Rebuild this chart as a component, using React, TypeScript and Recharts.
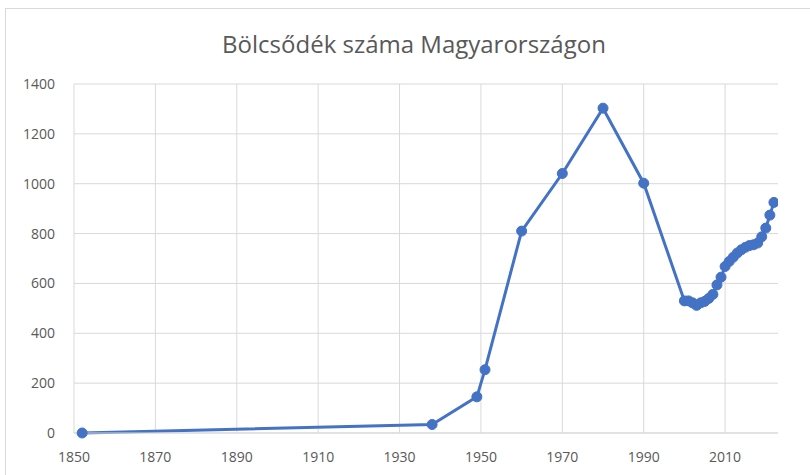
import React from 'react';
import { LineChart, Line, XAxis, YAxis, CartesianGrid } from 'recharts';

// Bölcsődék száma évenként (leolvasott értékek)
const years = [
  1852, 1938, 1949, 1951, 1960, 1970, 1980, 1990,
  2000, 2001, 2002, 2003, 2004, 2005, 2006, 2007, 2008, 2009, 2010,
  2011, 2012, 2013, 2014, 2015, 2016, 2017, 2018, 2019, 2020, 2021, 2022,
];
const counts = [
  0, 34, 145, 254, 810, 1041, 1303, 1002,
  530, 530, 522, 512, 522, 528, 540, 556, 594, 625, 668,
  688, 705, 722, 735, 745, 752, 755, 762, 787, 822, 874, 925,
];
const xTicks = [1850, 1870, 1890, 1910, 1930, 1950, 1970, 1990, 2010];
const yTicks = [0, 200, 400, 600, 800, 1000, 1200, 1400];

const title = 'Bölcsődék száma Magyarországon';

const data = years.map((year, i) => ({ year, count: counts[i] }));

const font = '"Open Sans", sans-serif';
const textColor = '#595959';
const gridColor = '#d9d9d9';
const lineColor = '#4472C4';

const App: React.FC = () => {
  return (
    <div
      style={{
        position: 'absolute',
        left: 0,
        top: 0,
        width: 810,
        height: 475,
        overflow: 'hidden',
        background: '#fff',
        fontFamily: font,
      }}
    >
      {/* keret */}
      <div
        style={{
          position: 'absolute',
          left: 5,
          top: 8,
          width: 830,
          height: 500,
          border: `1px solid ${gridColor}`,
        }}
      />
      <div
        style={{
          position: 'absolute',
          left: 114,
          top: 26,
          width: 600,
          textAlign: 'center',
          fontSize: 24,
          color: textColor,
          lineHeight: '36px',
        }}
      >
        {title}
      </div>
      <div style={{ position: 'absolute', left: 0, top: 0 }}>
        <LineChart
          width={810}
          height={475}
          data={data}
          margin={{ top: 84, right: 32, bottom: 12, left: 0 }}
        >
          <CartesianGrid stroke={gridColor} strokeWidth={1} verticalValues={xTicks} />
          <XAxis
            dataKey="year"
            type="number"
            domain={[1850, 2023]}
            ticks={xTicks}
            allowDataOverflow
            height={30}
            axisLine={{ stroke: gridColor }}
            tickLine={false}
            tickSize={6}
            tickMargin={13}
            tick={{ fill: textColor, fontSize: 14, fontFamily: font }}
          />
          <YAxis
            type="number"
            domain={[0, 1400]}
            ticks={yTicks}
            width={74}
            axisLine={false}
            tickLine={false}
            tickSize={8}
            tickMargin={11}
            tick={{ fill: textColor, fontSize: 14, fontFamily: font }}
          />
          <Line
            type="linear"
            dataKey="count"
            stroke={lineColor}
            strokeWidth={3}
            dot={{ r: 5, fill: lineColor, stroke: lineColor, strokeWidth: 1 }}
            activeDot={false}
            isAnimationActive={false}
          />
        </LineChart>
      </div>
    </div>
  );
};

export default App;
